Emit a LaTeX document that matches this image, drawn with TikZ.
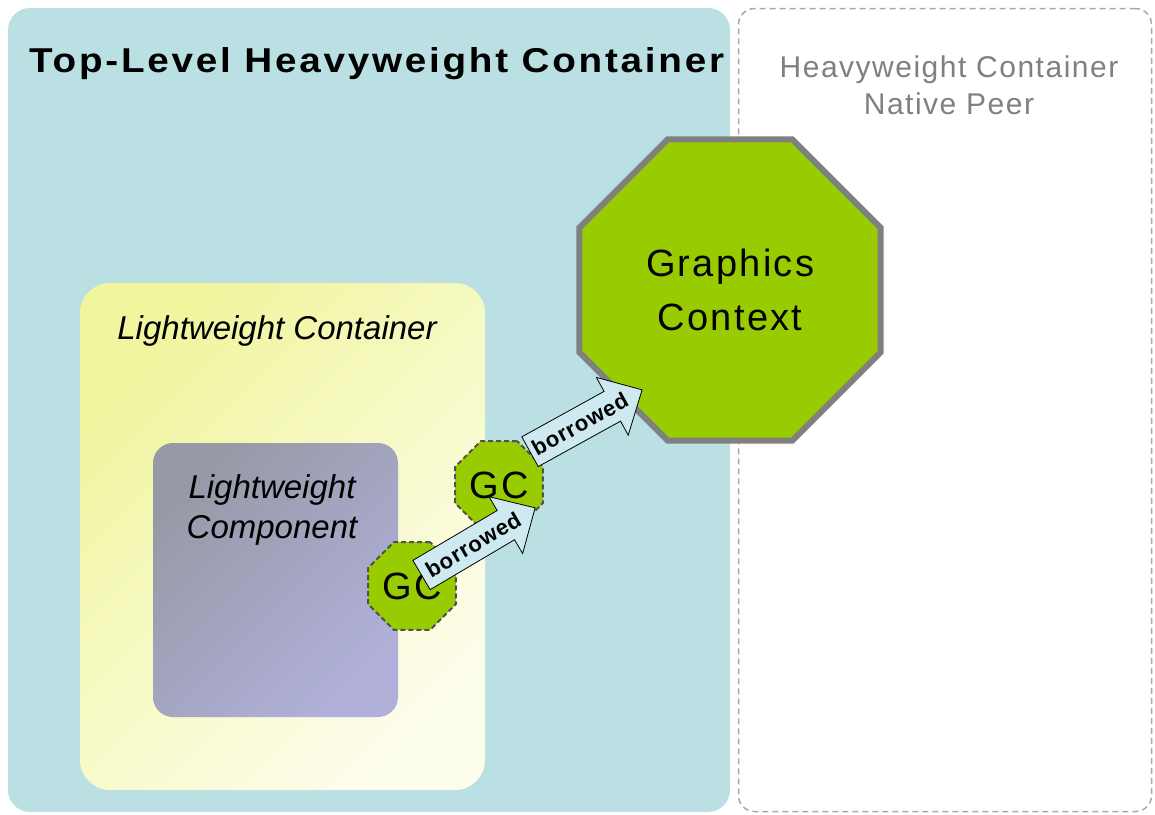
\documentclass[tikz,border=0pt]{standalone}
\usepackage{fontspec}
\setmainfont{Liberation Sans}
\newfontfamily\titlefam[LetterSpace=8,FakeStretch=1.12]{Liberation Sans}
\newfontfamily\peerfam[LetterSpace=5]{Liberation Sans}
\newfontfamily\ctxfam[LetterSpace=6]{Liberation Sans}
\newfontfamily\borrowfam[LetterSpace=4]{Liberation Sans}
\usetikzlibrary{shapes.geometric,calc}
\definecolor{tlteal}{RGB}{186,224,227}
\definecolor{peerdash}{RGB}{168,168,168}
\definecolor{peertext}{RGB}{128,128,128}
\definecolor{lwyellowA}{RGB}{240,245,158}
\definecolor{lwyellowB}{RGB}{253,253,236}
\definecolor{lwcompA}{RGB}{150,154,166}
\definecolor{lwcompB}{RGB}{176,176,218}
\definecolor{gcgreen}{RGB}{153,204,0}
\definecolor{octgray}{RGB}{128,128,128}
\definecolor{gcdash}{RGB}{80,80,80}
\definecolor{arrowfill}{RGB}{206,234,240}
\begin{document}
\begin{tikzpicture}[x=1pt,y=-1pt,
  regionbox/.style={rectangle, inner sep=0pt, outer sep=0pt, anchor=north west},
  octbig/.style={regular polygon, regular polygon sides=8, minimum size=326pt, inner sep=0pt,
    fill=gcgreen, draw=octgray, line width=6pt, align=center,
    font=\ctxfam\fontsize{38}{54}\selectfont},
  gcoct/.style={regular polygon, regular polygon sides=8, minimum size=95pt, inner sep=0pt,
    fill=gcgreen, draw=gcdash, line width=2pt, dash pattern=on 5pt off 3pt,
    font=\ctxfam\fontsize{38}{44}\selectfont},
  blockarrow/.style={draw=black, line width=0.8pt, fill=arrowfill, line join=miter},
  borrowlabel/.style={inner sep=0pt, font=\borrowfam\bfseries\fontsize{22}{26}\selectfont},
]
\useasboundingbox (0,0) rectangle (1155,814);
% containers
\node[regionbox, fill=tlteal, rounded corners=22pt, minimum width=722pt, minimum height=804pt] (toplevel) at (8,8) {};
\node[regionbox, fill=white, draw=peerdash, line width=1.5pt, dash pattern=on 6pt off 4pt,
  rounded corners=16pt, minimum width=413pt, minimum height=803pt] (peer) at (738.5,8.5) {};
\node[anchor=base west, inner sep=0pt, font=\titlefam\bfseries\fontsize{34.5}{40}\selectfont] (title) at (29,72) {Top-Level Heavyweight Container};
\node[inner sep=0pt, align=center, text=peertext, font=\peerfam\fontsize{30}{37}\selectfont] (peerlbl) at (949,85.5) {Heavyweight Container\\Native Peer};
\node[regionbox, rounded corners=30pt, top color=lwyellowA, bottom color=lwyellowB, shading angle=45,
  minimum width=405pt, minimum height=507pt] (lwcont) at (80,283) {};
\node[anchor=base, inner sep=0pt, font=\itshape\fontsize{33}{40}\selectfont] (lwcontlbl) at (277,339) {Lightweight Container};
\node[regionbox, rounded corners=20pt, top color=lwcompA, bottom color=lwcompB, shading angle=45,
  minimum width=245pt, minimum height=274pt] (lwcomp) at (153,443) {};
\node[inner sep=0pt, align=center, font=\itshape\fontsize{33}{40}\selectfont] (lwcomplbl) at (272,509.5) {Lightweight\\Component};
% graphics contexts
\node[octbig] (gctx) at (730,290) {Graphics\\Context};
\node[gcoct] (gc1) at (412,586) {GC};
\node[gcoct] (gc2) at (499,485) {GC};
% borrowed arrows (tail coordinates taken from the GC nodes)
\coordinate (t1) at ($(gc1)+(9.5,-11)$);
\coordinate (t2) at ($(gc2)+(31,-33.3)$);
\begin{scope}[shift={(t1)}, rotate=30.6]
  \draw[blockarrow] (0,-17) -- (98,-17) -- (98,-33) -- (132,0) -- (98,33) -- (98,17) -- (0,17) -- cycle;
  \coordinate (h1) at (132,0);
  \node[borrowlabel, rotate=30.6] (lbl1) at (60,0) {borrowed};
\end{scope}
\begin{scope}[shift={(t2)}, rotate=28.9]
  \draw[blockarrow] (0,-17) -- (94,-17) -- (94,-33) -- (128,0) -- (94,33) -- (94,17) -- (0,17) -- cycle;
  \coordinate (h2) at (128,0);
  \node[borrowlabel, rotate=28.9] (lbl2) at (57,0) {borrowed};
\end{scope}
\end{tikzpicture}
\end{document}
